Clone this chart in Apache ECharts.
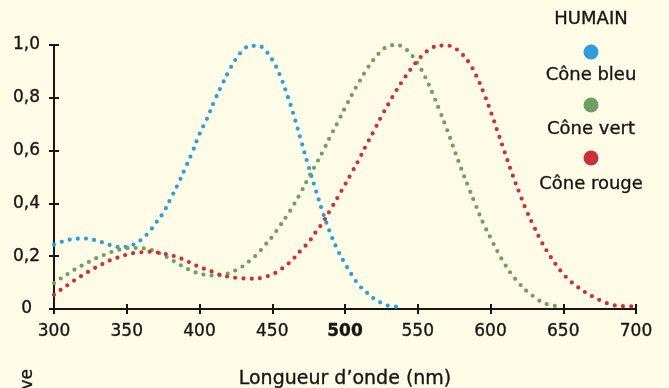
<!DOCTYPE html>
<html>
<head>
<meta charset="utf-8">
<script src="https://cdn.jsdelivr.net/npm/echarts@6/dist/echarts.min.js"></script>
<style>
html,body{margin:0;padding:0;background:#FEFCE7;}
#c{width:669px;height:388px;}
</style>
</head>
<body>
<div id="c"></div>
<script>
// ---- data ----
const wavelengths = [300,305,310,315,320,325,330,335,340,345,350,355,360,365,370,375,380,385,390,395,
  400,405,410,415,420,425,430,435,440,445,450,455,460,465,470,475,480,485,490,495,
  500,505,510,515,520,525,530,535,540,545,550,555,560,565,570,575,580,585,590,595,
  600,605,610,615,620,625,630,635,640,645,650,655,660,665,670,675,680,685,690,695,700];

const blueCone = [0.244,0.254,0.262,0.266,0.267,0.264,0.258,0.249,0.240,0.235,0.236,0.245,0.263,0.290,0.326,0.364,
  0.416,0.471,0.531,0.593,0.663,0.719,0.785,0.844,0.899,0.947,0.980,0.997,0.997,0.980,0.944,0.889,0.815,0.730,0.634,
  0.539,0.449,0.362,0.286,0.223,0.172,0.127,0.088,0.062,0.039,0.023,0.012,0.009,0.007];

const greenCone = [0.098,0.117,0.135,0.152,0.167,0.181,0.195,0.206,0.217,0.225,0.230,0.231,0.230,0.226,0.217,0.204,
  0.189,0.173,0.157,0.144,0.134,0.129,0.127,0.128,0.135,0.147,0.163,0.185,0.210,0.242,0.274,0.313,0.353,0.397,0.445,
  0.498,0.548,0.599,0.655,0.707,0.762,0.814,0.863,0.908,0.947,0.977,0.996,1.000,0.991,0.967,0.929,0.880,0.819,0.752,
  0.681,0.605,0.530,0.459,0.391,0.325,0.270,0.216,0.168,0.128,0.095,0.067,0.046,0.027,0.016,0.011];

const redCone = [0.054,0.074,0.093,0.112,0.129,0.146,0.161,0.175,0.188,0.197,0.206,0.212,0.215,0.217,0.215,0.210,
  0.204,0.196,0.185,0.172,0.159,0.149,0.139,0.128,0.122,0.118,0.116,0.115,0.116,0.122,0.131,0.147,0.167,0.193,0.224,
  0.253,0.292,0.330,0.376,0.423,0.471,0.520,0.571,0.625,0.676,0.729,0.778,0.825,0.868,0.907,0.942,0.970,0.990,0.998,
  0.998,0.989,0.968,0.935,0.886,0.823,0.750,0.670,0.590,0.510,0.438,0.369,0.311,0.255,0.209,0.168,0.133,0.105,0.083,
  0.064,0.048,0.034,0.022,0.014,0.011,0.010,0.010];

const seriesNames = ['Cône bleu', 'Cône vert', 'Cône rouge'];
const legendTitle = 'HUMAIN';
const xTickLabels = ['300','350','400','450','500','550','600','650','700'];
const yTickLabels = ['0','0,2','0,4','0,6','0,8','1,0'];
const xAxisTitle = 'Longueur d’onde (nm)';
const yAxisTitle = 'Absorbance relative';

// ---- styles ----
const FONT = 'DejaVu Sans';
const INK = '#161616';
const COLORS = ['#2A9EDF', '#6EA066', '#C9303A'];
const EMB = {textBorderColor: INK, textBorderWidth: 0.35};

function pairs(vals) { return vals.map((v, i) => [wavelengths[i], v]); }
const seriesData = [pairs(blueCone), pairs(greenCone), pairs(redCone)];

const chart = echarts.init(document.getElementById('c'), null, {renderer: 'canvas'});

const axisCommonX = {type: 'value', min: 300, max: 700, interval: 50, splitLine: {show: false}};
const axisCommonY = {type: 'value', min: 0, max: 1, interval: 0.2, splitLine: {show: false}};

const legendX = 591;
function txt(text, x, y, size, extra) {
  return Object.assign({
    type: 'text', x: x, y: y,
    style: Object.assign({text: text, fill: INK, fontSize: size, fontFamily: FONT,
      align: 'center', verticalAlign: 'middle', stroke: INK, lineWidth: 0.35}, extra || {})
  });
}
const legendGraphics = [txt(legendTitle, legendX, 19, 18)];
const dotY = [52, 105, 158];
const labelY = [75, 129, 184];
seriesNames.forEach((n, i) => {
  legendGraphics.push({type: 'circle', shape: {cx: legendX, cy: dotY[i], r: 7.5}, style: {fill: COLORS[i]}});
  legendGraphics.push(txt(n, legendX, labelY[i], 18));
});
const yName = txt(yAxisTitle, 28, 369, 17, {align: 'right'});
yName.rotation = Math.PI / 2;
legendGraphics.push(yName);

chart.setOption({
  backgroundColor: '#FEFCE7',
  animation: false,
  grid: {left: 54, right: 33, top: 45, bottom: 79, outerBoundsMode: 'none'},
  xAxis: [
    Object.assign({}, axisCommonX, {
      position: 'bottom',
      axisLine: {show: true, lineStyle: {color: INK, width: 2}},
      axisTick: {show: true, length: 5, lineStyle: {color: INK, width: 2}},
      axisLabel: Object.assign({
        margin: 14, fontSize: 17, color: INK, fontFamily: FONT,
        formatter: v => {
          const s = xTickLabels[Math.round((v - 300) / 50)];
          return v === 500 ? '{b|' + s + '}' : s;
        },
        rich: {b: {fontWeight: 'bold', fontSize: 17, fontFamily: FONT, color: INK}}
      }, EMB),
      name: xAxisTitle, nameLocation: 'middle', nameGap: 61,
      nameTextStyle: Object.assign({fontSize: 19, color: INK, fontFamily: FONT}, EMB)
    }),
    Object.assign({}, axisCommonX, {
      position: 'bottom', offset: 0,
      axisLine: {show: false},
      axisTick: {show: true, inside: true, length: 5, lineStyle: {color: INK, width: 2}},
      axisLabel: {show: false}
    })
  ],
  yAxis: [
    Object.assign({}, axisCommonY, {
      position: 'left',
      axisLine: {show: true, lineStyle: {color: INK, width: 2}},
      axisTick: {show: true, length: 5, lineStyle: {color: INK, width: 2}},
      axisLabel: Object.assign({
        margin: 14, fontSize: 17, color: INK, fontFamily: FONT,
        formatter: v => {
          const s = yTickLabels[Math.round(v / 0.2)];
          return v === 0 ? '{z|' + s + '}' : s;
        },
        rich: {z: {fontSize: 17, fontFamily: FONT, color: INK, padding: [0, 8, 0, 0]}}
      }, EMB)
    }),
    Object.assign({}, axisCommonY, {
      position: 'left', offset: 0,
      axisLine: {show: false},
      axisTick: {show: true, inside: true, length: 5, lineStyle: {color: INK, width: 2}},
      axisLabel: {show: false}
    })
  ],
  series: seriesNames.map((n, i) => ({
    name: n,
    type: 'line',
    xAxisIndex: 0,
    yAxisIndex: 0,
    data: seriesData[i],
    smooth: true,
    showSymbol: false,
    silent: true,
    itemStyle: {color: COLORS[i]},
    lineStyle: {color: COLORS[i], width: 4.2, type: [0, 8.2], cap: 'round'}
  })),
  graphic: legendGraphics
});
</script>
</body>
</html>
